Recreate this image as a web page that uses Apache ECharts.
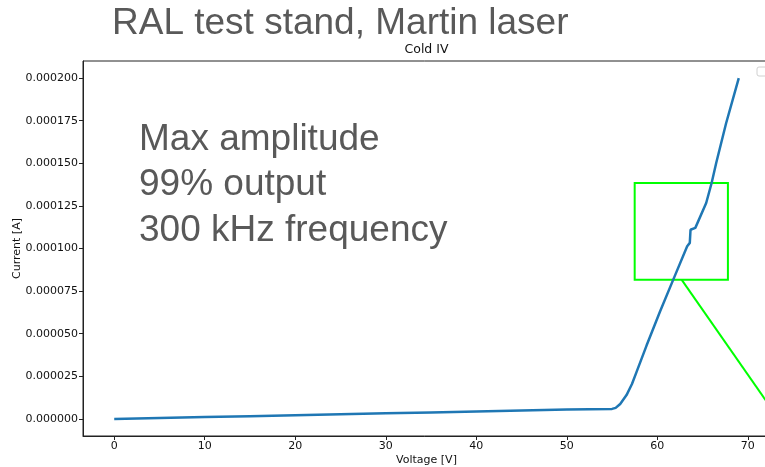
<!DOCTYPE html>
<html>
<head>
<meta charset="utf-8">
<title>Cold IV</title>
<script src="https://cdn.jsdelivr.net/npm/echarts@6/dist/echarts.min.js"></script>
<style>
  html, body { margin: 0; padding: 0; background: #ffffff; }
  #chart { width: 765px; height: 467px; }
</style>
</head>
<body>
<div id="chart"></div>
<script>
// Cold IV sweep: bias voltage (V) and measured current (A)
const voltage = [0, 5, 10, 15, 20, 25, 30, 35, 40, 45, 50, 55, 55.4, 55.9, 56.6, 57.2, 57.7, 58.8,
  60.3, 61.9, 63.3, 63.59, 63.67, 63.85, 64.2, 65.4, 66.0, 66.5, 67.6, 69.0];
const current = [0, 0.55e-6, 1.1e-6, 1.65e-6, 2.2e-6, 2.75e-6, 3.3e-6, 3.85e-6, 4.4e-6, 4.95e-6, 5.5e-6,
  5.9e-6, 6.5e-6, 8.8e-6, 1.4e-5, 2.05e-5, 2.75e-5, 4.29e-5, 6.3e-5, 8.35e-5, 1.013e-4, 1.033e-4,
  1.11e-4, 1.113e-4, 1.121e-4, 1.267e-4, 1.384e-4, 1.50e-4, 1.735e-4, 2.0e-4];

// Highlight box around the kink and its pointer line (data units)
const boxVoltage = [57.5, 67.8];
const boxCurrent = [8.16e-5, 1.384e-4];
const pointerStart = [62.7, 8.16e-5];
const pointerEnd = [72.45, 7.4e-6];

// Axis limits and tick steps
const xRange = [-3.45, 72.45];
const yRange = [-1.0e-5, 2.1e-4];
const xStep = 10;
const yStep = 2.5e-5;

// Text printed over the plot
const slideTitle = 'RAL test stand, Martin laser';
const plotTitle = 'Cold IV';
const noteLines = ['Max amplitude', '99% output', '300 kHz frequency'];

const chart = echarts.init(document.getElementById('chart'), null, { renderer: 'canvas' });

const points = voltage.map((v, i) => [v, current[i]]);
const tickFont = { fontFamily: 'DejaVu Sans', fontSize: 11, color: '#111' };
const noteStyle = { fontFamily: 'Liberation Sans', fontSize: 37, fill: '#595959' };

chart.setOption({
  animation: false,
  backgroundColor: '#ffffff',
  grid: {
    left: 83, top: 61, width: 687, height: 375,
    outerBoundsMode: 'none',
    containLabel: false,
    show: true, borderColor: '#222', borderWidth: 1, backgroundColor: 'transparent'
  },
  xAxis: {
    type: 'value',
    min: xRange[0], max: xRange[1],
    splitNumber: 8, minInterval: xStep, maxInterval: xStep,
    name: 'Voltage [V]', nameLocation: 'middle', nameGap: 19, nameMoveOverlap: false,
    nameTextStyle: { fontFamily: 'DejaVu Sans', fontSize: 11, color: '#111' },
    axisLine: { show: true, onZero: false, lineStyle: { color: '#222', width: 1 } },
    axisTick: { show: true, length: 4, lineStyle: { color: '#222' } },
    axisLabel: Object.assign({ margin: 5, showMinLabel: false, showMaxLabel: false }, tickFont),
    splitLine: { show: false }
  },
  yAxis: {
    type: 'value',
    min: yRange[0], max: yRange[1],
    splitNumber: 8, minInterval: yStep, maxInterval: yStep,
    name: 'Current [A]', nameLocation: 'middle', nameGap: 60, nameRotate: 90, nameMoveOverlap: false,
    nameTextStyle: { fontFamily: 'DejaVu Sans', fontSize: 11, color: '#111' },
    axisLine: { show: true, onZero: false, lineStyle: { color: '#222', width: 1 } },
    axisTick: { show: true, length: 4, lineStyle: { color: '#222' } },
    axisLabel: Object.assign({
      margin: 5, showMinLabel: false, showMaxLabel: false,
      formatter: (v) => Math.abs(v).toFixed(6)
    }, tickFont),
    splitLine: { show: false }
  },
  series: [{
    type: 'line',
    data: points,
    showSymbol: false,
    lineStyle: { color: '#1f77b4', width: 2.5 },
    itemStyle: { color: '#1f77b4' },
    markArea: {
      silent: true,
      itemStyle: { color: 'transparent', borderColor: '#00ff00', borderWidth: 2 },
      data: [[{ coord: [boxVoltage[0], boxCurrent[1]] }, { coord: [boxVoltage[1], boxCurrent[0]] }]]
    },
    markLine: {
      silent: true,
      symbol: ['none', 'none'],
      label: { show: false },
      lineStyle: { color: '#00ff00', width: 2, type: 'solid' },
      data: [[{ coord: pointerStart }, { coord: pointerEnd }]]
    }
  }],
  graphic: [
    {
      type: 'text', left: 112, top: 5,
      style: Object.assign({ text: slideTitle }, noteStyle)
    },
    {
      type: 'text', x: 426.5, y: 50,
      style: { text: plotTitle, fontFamily: 'DejaVu Sans', fontSize: 12.5, fill: '#111',
               align: 'center', verticalAlign: 'middle' }
    },
    {
      type: 'text', left: 139, top: 117,
      style: Object.assign({ text: noteLines.join('\n'), lineHeight: 45.5 }, noteStyle)
    },
    {
      type: 'rect', shape: { x: 757, y: 67, width: 16, height: 9, r: 2 },
      style: { fill: '#ffffff', stroke: '#d0d0d0', lineWidth: 1 }
    }
  ]
});
</script>
</body>
</html>
